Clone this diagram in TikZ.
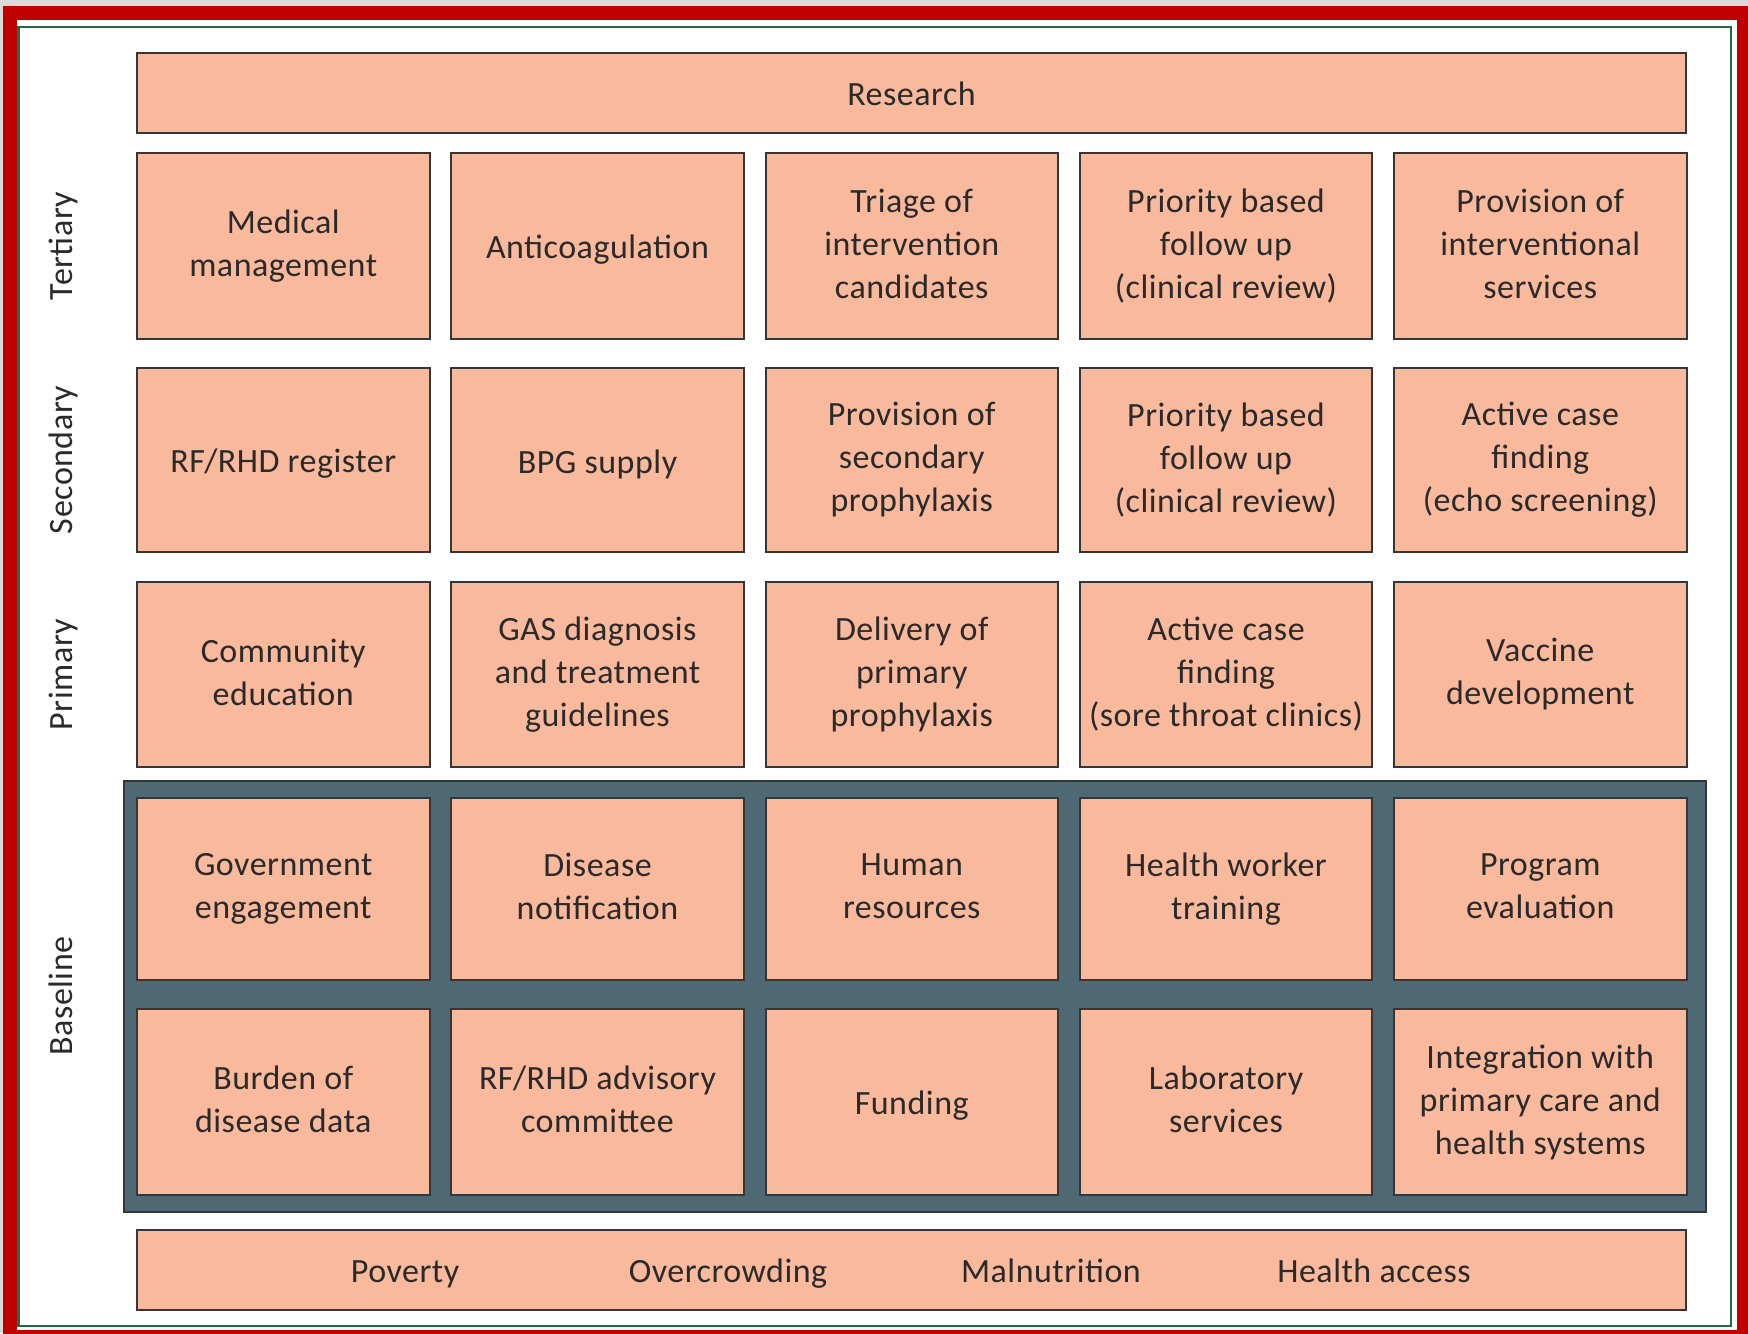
\documentclass[tikz,border=0pt]{standalone}
\usepackage{fontspec}
\setmainfont{Carlito}[LetterSpace=1.5]
\definecolor{salmon}{HTML}{F9B99D}
\definecolor{slate}{HTML}{4E6874}
\definecolor{boxline}{HTML}{363636}
\definecolor{txt}{HTML}{2A2A2A}
\definecolor{frame}{HTML}{C00000}
\definecolor{gframe}{HTML}{1E6B45}
\definecolor{bgray}{HTML}{DADADA}
\newcommand\lstrut{\rule[-2.7pt]{0pt}{18.6pt}}
\tikzset{
  txtfont/.style={text=txt, font=\fontsize{17}{21.5}\selectfont,
    execute at begin node=\lstrut, execute at end node=\lstrut},
  cell/.style={draw=boxline, line width=1pt, fill=salmon, align=center,
    inner sep=0pt, minimum width=146.25pt, txtfont},
  lvl/.style={rotate=90, inner sep=0pt, txtfont},
  wide/.style={cell, minimum width=774.5pt, minimum height=40pt},
  plain/.style={inner sep=0pt, txtfont}
}
\begin{document}
\begin{tikzpicture}[x=0.5pt,y=-0.5pt]
\useasboundingbox (0,0) rectangle (1748,1333);
\fill[bgray] (0,0) rectangle (1748,1333);
\fill[frame] (3,6) rectangle (1760,1345);
\fill[white] (17,20) rectangle (1737,1330);
\draw[gframe, line width=1.3pt] (18.5,27) rectangle (1731,1326);
% baseline frame
\node[draw=boxline, line width=1pt, fill=slate, minimum width=791pt, minimum height=215.5pt, inner sep=0pt] (base) at (914.5,996.5) {};
% research
\node[wide] (res) at (911.5,92.5) {Research};
% tertiary
\node[cell, minimum height=93pt] (t1) at (283.25,246) {Medical\\management};
\node[cell, minimum height=93pt] (t2) at (597.5,246) {Anticoagulation};
\node[cell, minimum height=93pt] (t3) at (911.75,246) {Triage of\\intervention\\candidates};
\node[cell, minimum height=93pt] (t4) at (1226,246) {Priority based\\follow up\\(clinical review)};
\node[cell, minimum height=93pt] (t5) at (1540.25,246) {Provision of\\interventional\\services};
% secondary
\node[cell, minimum height=92pt] (s1) at (283.25,460) {RF/RHD register};
\node[cell, minimum height=92pt] (s2) at (597.5,460) {BPG supply};
\node[cell, minimum height=92pt] (s3) at (911.75,460) {Provision of\\secondary\\prophylaxis};
\node[cell, minimum height=92pt] (s4) at (1226,460) {Priority based\\follow up\\(clinical review)};
\node[cell, minimum height=92pt] (s5) at (1540.25,460) {Active case\\finding\\(echo screening)};
% primary
\node[cell, minimum height=92.5pt] (p1) at (283.25,674.5) {Community\\education};
\node[cell, minimum height=92.5pt] (p2) at (597.5,674.5) {GAS diagnosis\\and treatment\\guidelines};
\node[cell, minimum height=92.5pt] (p3) at (911.75,674.5) {Delivery of\\primary\\prophylaxis};
\node[cell, minimum height=92.5pt] (p4) at (1226,674.5) {Active case\\finding\\(sore throat clinics)};
\node[cell, minimum height=92.5pt] (p5) at (1540.25,674.5) {Vaccine\\development};
% baseline row 1
\node[cell, minimum height=91pt] (b1) at (283.25,889) {Government\\engagement};
\node[cell, minimum height=91pt] (b2) at (597.5,889) {Disease\\notification};
\node[cell, minimum height=91pt] (b3) at (911.75,889) {Human\\resources};
\node[cell, minimum height=91pt] (b4) at (1226,889) {Health worker\\training};
\node[cell, minimum height=91pt] (b5) at (1540.25,889) {Program\\evaluation};
% baseline row 2
\node[cell, minimum height=93pt] (c1) at (283.25,1102) {Burden of\\disease data};
\node[cell, minimum height=93pt] (c2) at (597.5,1102) {RF/RHD advisory\\committee};
\node[cell, minimum height=93pt] (c3) at (911.75,1102) {Funding};
\node[cell, minimum height=93pt] (c4) at (1226,1102) {Laboratory\\services};
\node[cell, minimum height=93pt] (c5) at (1540.25,1102) {Integration with\\primary care and\\health systems};
% bottom bar
\node[wide] (env) at (911.5,1270) {};
\node[plain] (e1) at (405,1269) {Poverty};
\node[plain] (e2) at (728,1269) {Overcrowding};
\node[plain] (e3) at (1051,1269) {Malnutrition};
\node[plain] (e4) at (1374,1269) {Health access};
% level labels
\node[lvl] (lt) at (59,246) {Tertiary};
\node[lvl] (ls) at (59,460) {Secondary};
\node[lvl] (lp) at (59,674.5) {Primary};
\node[lvl] (lb) at (59,996) {Baseline};
\end{tikzpicture}
\end{document}
